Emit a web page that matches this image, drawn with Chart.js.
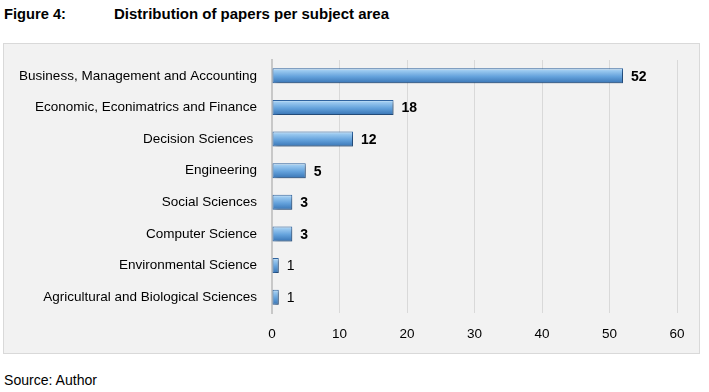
<!DOCTYPE html>
<html>
<head>
<meta charset="utf-8">
<script src="https://cdn.jsdelivr.net/npm/chart.js@4.4.0/dist/chart.umd.min.js"></script>
<style>
  body { margin:0; background:#fff; width:709px; height:392px; position:relative; overflow:hidden;
         font-family:"Liberation Sans",Arial,sans-serif; }
  .txt { position:absolute; white-space:nowrap; color:#000; font-size:15px; transform-origin:0 0; }
  .negrita { font-weight:bold; }
  #caja { position:absolute; left:3px; top:43px; width:695px; height:309px; background:#f2f2f2;
          border:1px solid #d9d9d9; }
</style>
</head>
<body>
<div class="txt negrita" id="fig" style="left:4px;top:5px">Figure 4:</div>
<div class="txt negrita" id="tit" style="left:114px;top:5px">Distribution of papers per subject area</div>
<div id="caja"><canvas id="grafico"></canvas></div>
<div class="txt" id="src" style="left:4px;top:371px">Source: Author</div>
<script>
const fuente = '"Liberation Sans",Arial,sans-serif';

const areas = [
  "Business, Management and Accounting",
  "Economic, Econimatrics and Finance",
  "Decision Sciences ",
  "Engineering",
  "Social Sciences",
  "Computer Science",
  "Environmental Science",
  "Agricultural and Biological Sciences"
];
const papers = [52, 18, 12, 5, 3, 3, 1, 1];
const etiquetasX = [0, 10, 20, 30, 40, 50, 60];

// estrechar el texto html para imitar la fuente narrow
function ajustar(id, ancho){
  const el = document.getElementById(id);
  const w = el.getBoundingClientRect().width;
  el.style.transform = "scaleX(" + (ancho / w) + ")";
}
ajustar("fig", 62);
ajustar("tit", 275);
ajustar("src", 93);

// degradado vertical por barra
function colorBarra(c){
  const chart = c.chart;
  const y = chart.scales.y;
  if(!y || y.top === undefined) return "#6fa8dc";
  const centro = y.getPixelForValue(c.dataIndex);
  const alto = 15;
  const g = chart.ctx.createLinearGradient(0, centro - alto/2, 0, centro + alto/2);
  g.addColorStop(0, "#e2f0fb");
  g.addColorStop(0.15, "#9ccaf0");
  g.addColorStop(0.55, "#64a2dc");
  g.addColorStop(1, "#3874b4");
  return g;
}

const sombra = {
  id: "sombra",
  beforeDatasetsDraw(chart){
    const ctx = chart.ctx;
    ctx.save();
    ctx.shadowColor = "rgba(0,0,0,0.35)";
    ctx.shadowBlur = 3;
    ctx.shadowOffsetX = 2;
    ctx.shadowOffsetY = 2;
  },
  afterDatasetsDraw(chart){
    chart.ctx.restore();
  }
};

const valores = {
  id: "valores",
  afterDraw(chart){
    const ctx = chart.ctx;
    const meta = chart.getDatasetMeta(0);
    ctx.save();
    ctx.fillStyle = "#000";
    ctx.textBaseline = "middle";
    ctx.textAlign = "left";
    meta.data.forEach((barra, i) => {
      const v = papers[i];
      ctx.font = (v > 1 ? "bold " : "") + "14px " + fuente;
      ctx.fillText(String(v), barra.x + 8, barra.y + 1);
    });
    ctx.restore();
  }
};

new Chart(document.getElementById("grafico"), {
  type: "bar",
  data: {
    labels: areas,
    datasets: [{
      data: papers,
      backgroundColor: colorBarra,
      borderColor: "#2f64a0",
      borderWidth: 1,
      borderSkipped: false,
      barPercentage: 0.95,
      categoryPercentage: 0.5
    }]
  },
  options: {
    indexAxis: "y",
    responsive: true,
    maintainAspectRatio: false,
    animation: false,
    layout: { padding: { top: 16, right: 22, left: 0, bottom: 0 } },
    plugins: { legend: { display: false }, tooltip: { enabled: false } },
    scales: {
      x: {
        min: 0, max: 60,
        afterBuildTicks(ax){ ax.ticks = etiquetasX.map(v => ({ value: v })); },
        grid: { color: "#d9d9d9", drawTicks: false, lineWidth: 1 },
        border: { display: false },
        ticks: { color: "#000", padding: 13, font: { family: fuente, size: 13.5 } },
        afterFit(ax){ ax.height = 40; }
      },
      y: {
        grid: { display: false, drawTicks: true, tickLength: 15 },
        border: { display: true, color: "#c8c8c8", width: 2 },
        ticks: { color: "#000", padding: 0, font: { family: fuente, size: 13.5 } },
        afterFit(ax){ ax.width = 268; }
      }
    }
  },
  plugins: [sombra, valores]
});
</script>
</body>
</html>
